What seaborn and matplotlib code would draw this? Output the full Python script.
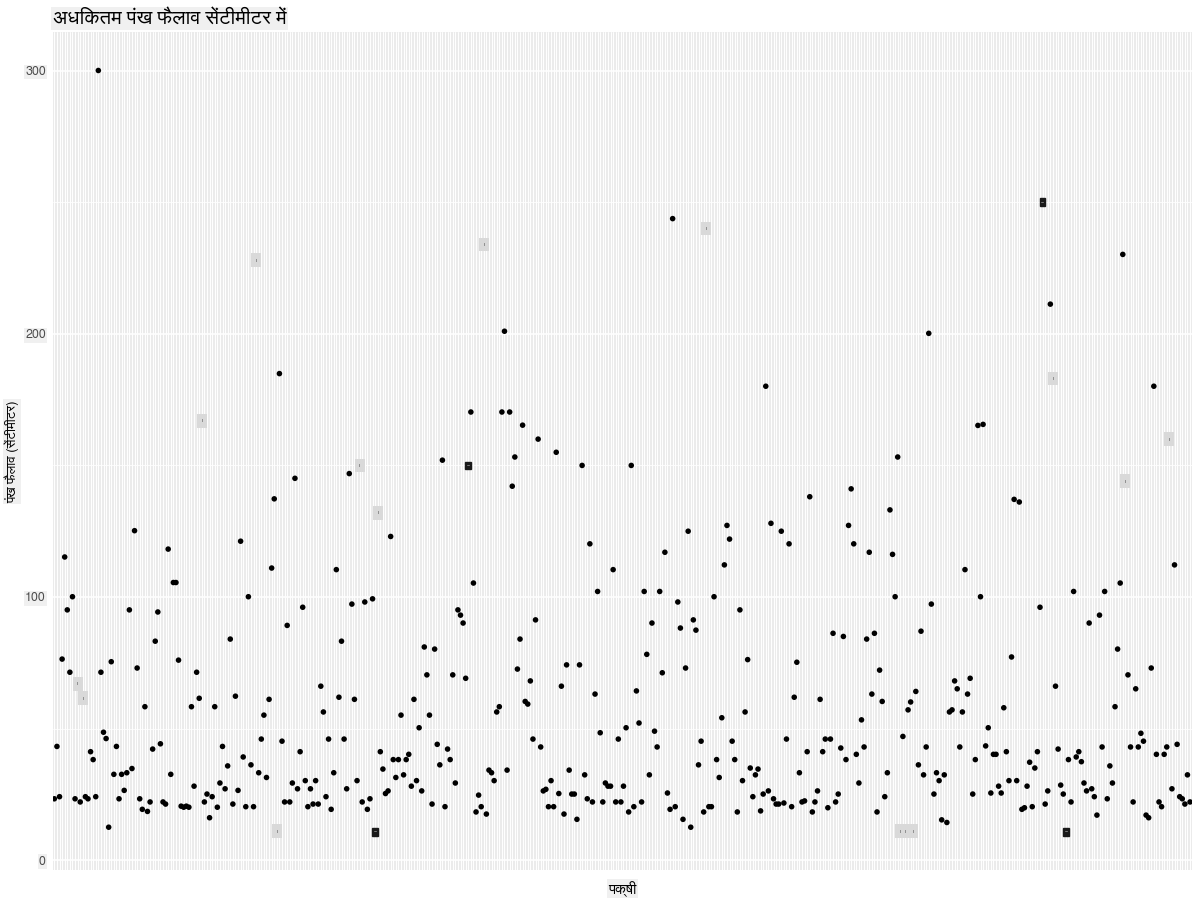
import numpy as np
import pandas as pd
import matplotlib
matplotlib.use("Agg")
import matplotlib.pyplot as plt
import seaborn as sns
from matplotlib import font_manager
from matplotlib.ft2font import FT2Font

# data: max wingspan (cm), one bird per x slot, left to right
wingspan = [
    23.3, 43.2, 24.1, 76.4, 115.2, 95.1, 71.4, 100.1, 23.3, 67,
    22.1, 61.5, 24.1, 23.3, 41.2, 38.2, 24.1, 300.1, 71.4, 48.6,
    46.2, 12.5, 75.4, 32.6, 43.2, 23.3, 32.6, 26.5, 33.2, 95.1,
    34.8, 125.2, 73.0, 23.3, 19.3, 58.3, 18.5, 22.1, 42.2, 83.2,
    94.3, 44.2, 22.1, 21.3, 118.2, 32.6, 105.5, 105.5, 76.0, 20.5,
    20.1, 20.5, 20.1, 58.3, 28.1, 71.4, 61.5, 167, 22.1, 25.1,
    16.1, 24.1, 58.3, 20.1, 29.3, 43.2, 27.1, 35.8, 84.0, 21.3,
    62.3, 26.5, 121.2,
    39.2, 20.3, 100.1, 36.2, 20.3, 228, 33.2, 46.0, 55.1, 31.4,
    61.1, 111.0, 137.3, 11, 184.9, 45.2, 22.1, 89.2, 22.1, 29.3,
    145.1, 27.1, 41.2, 96.1, 30.2, 20.3, 27.1, 21.3, 30.2, 21.3,
    66.1, 56.3, 24.1, 46.0, 19.3, 33.2, 110.4, 61.9, 83.2, 46.0,
    27.1, 146.9, 97.3, 61.1, 30.2, 150, 22.1, 98.1, 19.3, 23.3,
    99.3, 10.6, 132, 41.2, 34.6, 25.3, 26.3, 123.0, 38.2, 31.4,
    38.2, 55.1, 32.4, 38.2,
    40.2, 28.1, 61.1, 30.2, 50.3, 26.3, 81.0, 70.4, 55.1, 21.3,
    80.2, 44.0, 36.2, 152.0, 20.3, 42.2, 38.2, 70.4, 29.3, 95.1,
    93.1, 90.1, 69.1, 150, 170.3, 105.3, 18.3, 24.7, 20.3, 234,
    17.5, 34.2, 33.2, 30.2, 56.3, 58.3, 170.3, 201.0, 34.2, 170.3,
    142.1, 153.2, 72.6, 84.0, 165.3, 60.3, 59.3, 68.1, 46.0, 91.3,
    160.0, 43.0, 26.3, 26.9, 20.3, 30.2, 20.3, 155.0, 25.3, 66.1,
    17.5, 74.2, 34.2, 25.1,
    25.1, 15.5, 74.2, 150.0, 32.4, 23.3, 120.2, 22.1, 63.1, 102.1,
    48.4, 22.1, 29.3, 28.1, 28.1, 110.4, 22.1, 46.0, 22.1, 28.1,
    50.3, 18.3, 150.0, 20.3, 64.3, 52.1, 22.1, 102.1, 78.2, 32.4,
    90.1, 49.0, 43.0, 102.1, 71.2, 117.0, 25.5, 19.3, 243.8, 20.3,
    98.1, 88.2, 15.5, 73.0, 125.0, 12.5, 91.3, 87.4, 36.2, 45.2,
    18.3, 240, 20.3, 20.3, 100.1, 38.2, 31.4, 54.1, 112.2, 127.2,
    122.0, 45.2, 38.2,
    18.3, 95.1, 30.2, 56.3, 76.2, 35.0, 24.1, 32.4, 34.6, 18.7,
    25.1, 180.1, 26.3, 128.0, 23.3, 21.3, 21.3, 125.0, 21.7, 46.0,
    120.2, 20.3, 61.9, 75.2, 33.2, 22.1, 22.5, 41.2, 138.1, 18.3,
    22.1, 26.3, 61.1, 41.2, 46.0, 19.9, 46.0, 86.2, 22.1, 25.1,
    42.6, 85.0, 38.2, 127.2, 141.1, 120.2, 40.2, 29.3, 53.3, 43.0,
    84.0, 117.0, 63.1, 86.2, 18.3, 72.2, 60.3, 24.1, 33.2, 133.1,
    116.2, 100.1, 153.2,
    11, 47.0, 11, 57.1, 60.1, 11, 64.1, 36.2, 87.0, 32.4,
    43.0, 200.2, 97.3, 25.1, 33.2, 30.2, 15.3, 32.4, 14.3, 56.3,
    57.1, 68.1, 65.1, 43.0, 56.3, 110.4, 63.1, 69.1, 25.1, 38.2,
    165.2, 100.1, 165.6, 43.4, 50.3, 25.5, 40.2, 40.2, 28.1, 25.5,
    57.9, 41.2, 30.2, 77.2, 137.1, 30.2, 136.1, 19.3, 19.9, 28.1,
    37.2, 20.3, 35.0, 41.2, 96.1, 250, 21.3, 26.3, 211.3, 183,
    66.1, 42.2, 28.5, 25.1,
    10.6, 38.2, 22.1, 102.1, 39.2, 41.2, 37.4, 29.3, 26.3, 90.1,
    27.1, 24.1, 17.1, 93.1, 43.0, 102.1, 23.3, 35.8, 29.3, 58.3,
    80.2, 105.3, 230.2, 144, 70.4, 43.0, 22.1, 65.1, 43.0, 48.2,
    45.2, 17.1, 16.1, 73.0, 180.1, 40.2, 22.1, 20.3, 40.2, 43.0,
    160, 27.1, 112.2, 44.0, 24.1, 23.3, 21.3, 32.4, 22.1,
]
# slots drawn as small label boxes instead of dots
light_labels = [9, 11, 57, 78, 86, 118, 125, 166, 252, 327, 329, 332, 386, 414, 431]
dark_labels = [124, 160, 382, 391]

title = "अधिकतम पंख फैलाव सेंटीमीटर में"
ylabel = "पंख फैलाव (सेंटीमीटर)"
xlabel = "पक्षी"
yticks = [0, 100, 200, 300]


def hindi_font():
    fonts = sorted(font_manager.fontManager.ttflist,
                   key=lambda f: ("Sans" not in f.name, f.name))
    for f in fonts:
        try:
            if 0x0915 in FT2Font(f.fname).get_charmap():
                return f.name
        except Exception:
            continue
    return None


sns.set_theme(style="darkgrid")
fam = hindi_font()
plt.rcParams["font.family"] = [fam, "DejaVu Sans"] if fam else ["DejaVu Sans"]

n = len(wingspan)
df = pd.DataFrame({"bird": np.arange(n), "wingspan": wingspan})
df["kind"] = "dot"
df.loc[light_labels, "kind"] = "light"
df.loc[dark_labels, "kind"] = "dark"
dots = df[df["kind"] == "dot"]

fig, ax = plt.subplots(figsize=(12, 9), dpi=100)
fig.subplots_adjust(left=0.044, right=0.993, top=0.964, bottom=0.033)

sns.scatterplot(data=dots, x="bird", y="wingspan", color="black", s=16,
                edgecolor="none", ax=ax, zorder=3, legend=False)

for _, r in df[df["kind"] == "light"].iterrows():
    ax.text(r["bird"], r["wingspan"], "ı", fontsize=3.5, color="#333333",
            ha="center", va="center", zorder=4,
            bbox=dict(boxstyle="square,pad=0.9", fc="#d9d9d9", ec="none"))
for _, r in df[df["kind"] == "dark"].iterrows():
    ax.text(r["bird"], r["wingspan"], "‒", fontsize=4, color="white",
            ha="center", va="center", zorder=4,
            bbox=dict(boxstyle="square,pad=0.25", fc="#1a1a1a", ec="#1a1a1a"))

lo, hi = df["wingspan"].min(), df["wingspan"].max()
pad = 0.05 * (hi - lo)
ax.set_ylim(lo - pad, hi + pad)
ax.set_xlim(-0.6, n - 0.4)

ax.set_facecolor("#ebebeb")
ax.set_xticks(np.arange(n))
ax.set_xticklabels([])
ax.tick_params(axis="x", length=0)
ax.set_yticks(yticks)
ax.set_yticks([50, 150, 250], minor=True)
ax.tick_params(axis="y", which="major", length=3, width=0.8, color="#333333",
               labelcolor="#4d4d4d", labelsize=9, pad=2)
ax.tick_params(axis="y", which="minor", length=0)
ax.grid(which="major", axis="y", color="white", lw=1.1)
ax.grid(which="minor", axis="y", color="white", lw=0.55)
ax.grid(which="major", axis="x", color="white", lw=0.7)
for s in ax.spines.values():
    s.set_visible(False)

box = dict(boxstyle="square,pad=0.1", fc="#f0f0f0", ec="none")
for t in ax.get_yticklabels():
    t.set_bbox(box)
ax.set_title(title, loc="left", fontsize=14.5, pad=6, color="black", bbox=box)
ax.set_ylabel(ylabel, fontsize=9.5, labelpad=4, color="black", bbox=box)
ax.set_xlabel(xlabel, fontsize=10.5, labelpad=4, color="black", bbox=box)

fig.savefig("out.png", dpi=100)
